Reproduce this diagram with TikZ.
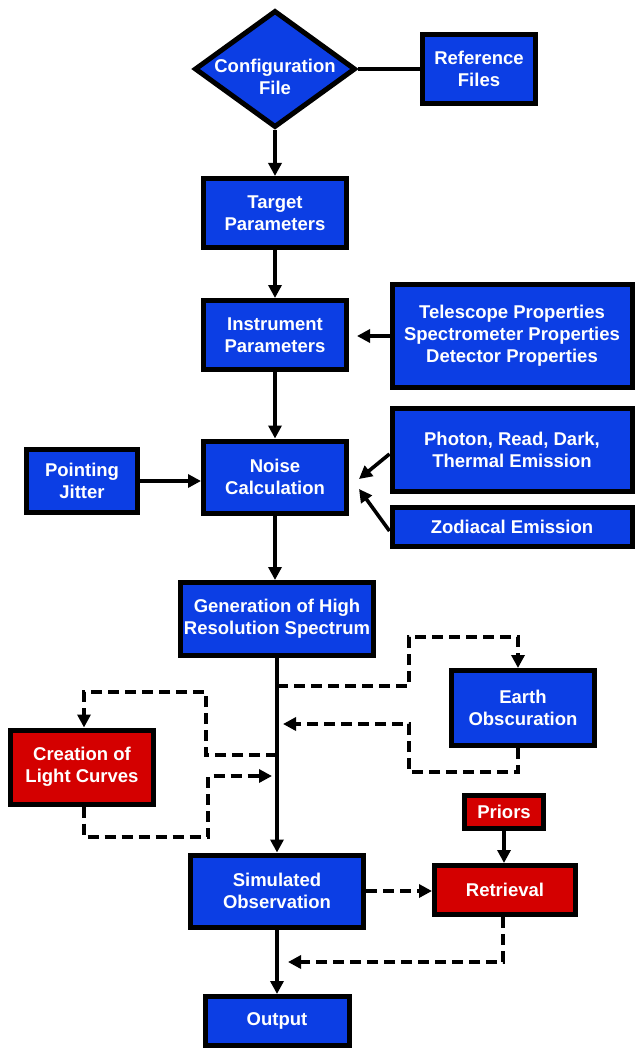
\documentclass[tikz,border=0pt]{standalone}
\usepackage{fontspec}
\setmainfont{Liberation Sans}
\usetikzlibrary{shapes.geometric,arrows.meta}
\definecolor{boxblue}{RGB}{12,62,228}
\definecolor{boxred}{RGB}{212,0,0}
\tikzset{
  box/.style={draw=black, line width=5pt, fill=boxblue, text=white, align=center, inner sep=0pt,
    font=\fontsize{18.5}{22}\selectfont\bfseries},
  redbox/.style={box, fill=boxred},
  conn/.style={line width=3.6pt, draw=black},
  arr/.style={conn, -{Triangle[length=13pt,width=13pt]}},
  dsh/.style={arr, dash pattern=on 11pt off 6pt},
}
\begin{document}
\begin{tikzpicture}[x=1pt,y=-1pt]
\useasboundingbox[fill=white] (0,0) rectangle (639,1051);
% nodes
\node[box, diamond, minimum width=161pt, minimum height=117pt, aspect=1.36,
  label={[text=white, align=center, font=\fontsize{18.5}{22}\selectfont\bfseries, yshift=-8pt]center:Configuration\\File}] (conf) at (275,69) {};
\node[box, minimum width=113pt, minimum height=69pt] (ref) at (479,69) {Reference\\Files};
\node[box, minimum width=143pt, minimum height=69pt] (target) at (275,213) {Target\\Parameters};
\node[box, minimum width=143pt, minimum height=69pt] (instr) at (275,335) {Instrument\\Parameters};
\node[box, minimum width=240pt, minimum height=103pt] (tele) at (512,336) {Telescope Properties\\Spectrometer Properties\\Detector Properties};
\node[box, minimum width=143pt, minimum height=72pt] (noise) at (275,477) {Noise\\Calculation};
\node[box, minimum width=111pt, minimum height=63pt] (jitter) at (82,481) {Pointing\\Jitter};
\node[box, minimum width=240pt, minimum height=83pt] (photon) at (512,450) {Photon, Read, Dark,\\Thermal Emission};
\node[box, minimum width=240pt, minimum height=39pt] (zodi) at (512,527) {Zodiacal Emission};
\node[box, minimum width=193pt, minimum height=73pt] (gen) at (277,619) {Generation of High\\Resolution Spectrum};
\node[box, minimum width=143pt, minimum height=75pt] (earth) at (523,708) {Earth\\Obscuration};
\node[redbox, minimum width=143pt, minimum height=74pt] (light) at (82,767) {Creation of\\Light Curves};
\node[redbox, minimum width=79pt, minimum height=33pt] (priors) at (504,812) {Priors};
\node[redbox, minimum width=141pt, minimum height=49pt] (retr) at (505,890) {Retrieval};
\node[box, minimum width=173pt, minimum height=72pt] (sim) at (277,891) {Simulated\\Observation};
\node[box, minimum width=144pt, minimum height=49pt] (out) at (277,1021) {Output};
% coordinates
\coordinate (tip1) at (359,479);
\coordinate (tip2) at (359,489);
\coordinate (eOut) at (277,686);
\coordinate (eIn) at (283,724);
\coordinate (eX) at (518,0);
\coordinate (lOut) at (277,755);
\coordinate (lIn) at (272,776);
\coordinate (lX) at (84,0);
\coordinate (rIn) at (288,962);
\coordinate (rX) at (503,0);
% connectors
\draw[conn] (conf.east) -- (ref.west);
\draw[arr] (conf.south) -- (target.north);
\draw[arr] (target.south) -- (instr.north);
\draw[arr, shorten >=8pt] (tele.west) -- (tele.west -| instr.east);
\draw[arr] (instr.south) -- (noise.north);
\draw[arr] (jitter.east) -- (jitter.east -| noise.west);
\draw[arr] ([yshift=-4pt]photon.west) -- (tip1);
\draw[arr] ([yshift=-4pt]zodi.west) -- (tip2);
\draw[arr] (noise.south) -- (noise.south |- gen.north);
\draw[arr] (gen.south) -- (sim.north);
\draw[dsh] (eOut) -- (409,686) -- (409,637) -- (518,637) -- (earth.north -| eX);
\draw[dsh] (earth.south -| eX) -- (518,772) -- (409,772) -- (409,724) -- (eIn);
\draw[dsh] (lOut) -- (206,755) -- (206,692) -- (84,692) -- (light.north -| lX);
\draw[dsh] (light.south -| lX) -- (84,837) -- (208,837) -- (208,776) -- (lIn);
\draw[dsh] (sim.east) -- (sim.east -| retr.west);
\draw[arr] (priors.south) -- (priors.south |- retr.north);
\draw[dsh] (retr.south -| rX) -- (503,962) -- (rIn);
\draw[arr] (sim.south) -- (out.north);
\end{tikzpicture}
\end{document}
